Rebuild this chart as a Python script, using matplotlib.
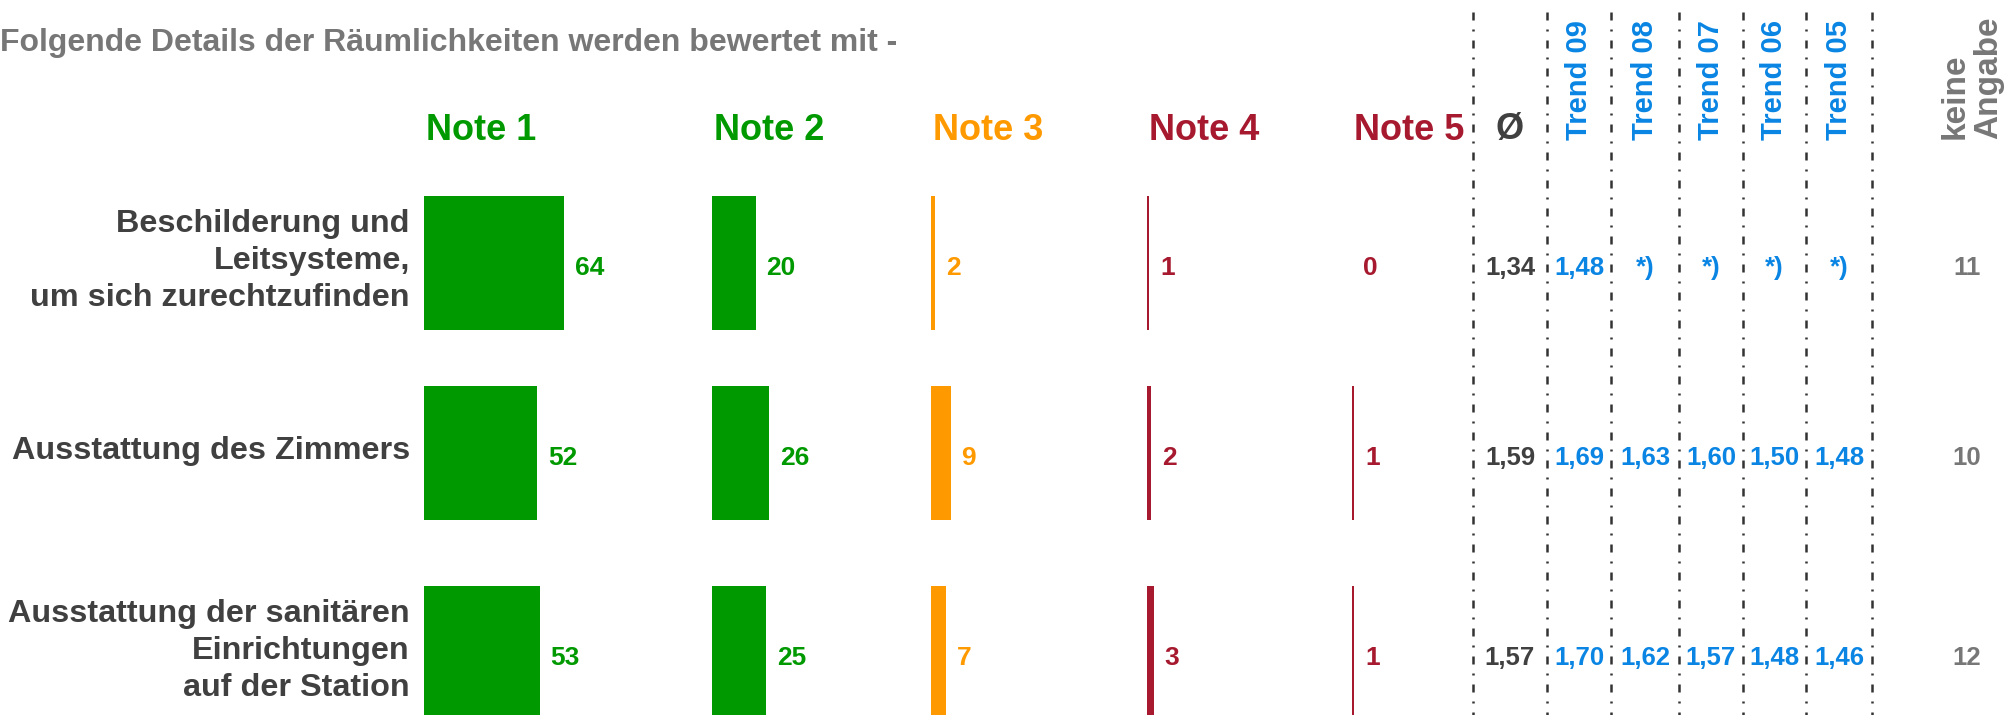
import numpy as np
import matplotlib
matplotlib.use("Agg")
import matplotlib.pyplot as plt

plt.rcParams['font.family'] = ['Liberation Sans', 'DejaVu Sans']
plt.rcParams['font.weight'] = 'bold'

# --- Daten ---
titel = "Folgende Details der Räumlichkeiten werden bewertet mit -"
kategorien = ["Beschilderung und\nLeitsysteme,\num sich zurechtzufinden",
              "Ausstattung des Zimmers",
              "Ausstattung der sanitären\nEinrichtungen\nauf der Station"]
noten_labels = ["Note 1", "Note 2", "Note 3", "Note 4", "Note 5"]
note1 = [64, 52, 53]
note2 = [20, 26, 25]
note3 = [2, 9, 7]
note4 = [1, 2, 3]
note5 = [0, 1, 1]
mittelwert = [1.34, 1.59, 1.57]
trend_labels = ["Trend 09", "Trend 08", "Trend 07", "Trend 06", "Trend 05"]
trend09 = [1.48, 1.69, 1.70]
trend08 = [None, 1.63, 1.62]
trend07 = [None, 1.60, 1.57]
trend06 = [None, 1.50, 1.48]
trend05 = [None, 1.48, 1.46]
keine_angabe = [11, 10, 12]

# --- Layout (Pixel-Koordinaten) ---
W, H = 2011, 715
px_pro_prozent = 2.18
zeilen_y = [263, 453, 653]
bar_hoehe = 134
spalten_x = [424, 712, 931, 1147, 1352]
linien_x = [1473, 1547, 1611, 1679, 1743, 1806, 1872]

gruen = '#009900'
orange = '#ff9900'
rot = '#a6192e'
blau = '#0a85e3'
dunkel = '#404040'
grau = '#777777'
farben = [gruen, gruen, orange, rot, rot]

fig = plt.figure(figsize=(W / 100, H / 100), dpi=100, facecolor='white')
ax = fig.add_axes([0, 0, 1, 1])
ax.set_xlim(0, W)
ax.set_ylim(H, 0)
ax.axis('off')

ax.text(0, 43, titel, fontsize=23, color=grau, ha='left', va='center')

# Kategorien
for y, kat in zip(zeilen_y, kategorien):
    ax.text(410, y - 2, kat, fontsize=23.3, color=dunkel, ha='right', va='center',
            multialignment='right', linespacing=1.3)

# Balken je Note
noten = [note1, note2, note3, note4, note5]
for x0, werte, farbe, lab in zip(spalten_x, noten, farben, noten_labels):
    ax.text(x0 + 2, 131, lab, fontsize=26, color=farbe, ha='left', va='center')
    breiten = np.array(werte) * px_pro_prozent
    ax.barh(zeilen_y, breiten, left=x0, height=bar_hoehe, color=farbe, linewidth=0)
    for y, b, v in zip(zeilen_y, breiten, werte):
        ax.text(x0 + b + 11, y + 5, str(v), fontsize=19, color=farbe,
                ha='left', va='center')

# gestrichelte Trennlinien (Strich-Punkt)
for x in linien_x:
    ax.plot([x, x], [12, H], color='#333333', lw=1.8,
            linestyle=(0, (3.2, 3.6, 0.8, 3.6)))

mitten = [(a + b) / 2 for a, b in zip(linien_x[:-1], linien_x[1:])]

def fmt(v):
    return "*)" if v is None else f"{v:.2f}".replace('.', ',')

ax.text(mitten[0], 130, "Ø", fontsize=26, color=dunkel, ha='center', va='center')
for y, v in zip(zeilen_y, mittelwert):
    ax.text(mitten[0], y + 5, fmt(v), fontsize=18.5, color=dunkel,
            ha='center', va='center')

trends = [trend09, trend08, trend07, trend06, trend05]
for xm, lab, werte in zip(mitten[1:], trend_labels, trends):
    ax.text(xm, 140, lab, fontsize=21, color=blau, rotation=90,
            ha='center', va='bottom')
    for y, v in zip(zeilen_y, werte):
        ax.text(xm, y + 5, fmt(v), fontsize=18.5, color=blau,
                ha='center', va='center')

ax.text(1972, 139, "keine\nAngabe", fontsize=24, color=grau, rotation=90,
        ha='center', va='bottom', multialignment='left', linespacing=1.1)
for y, v in zip(zeilen_y, keine_angabe):
    ax.text(1967, y + 5, str(v), fontsize=18.5, color=grau, ha='center', va='center')

fig.savefig('out.png', dpi=100, facecolor='white')
